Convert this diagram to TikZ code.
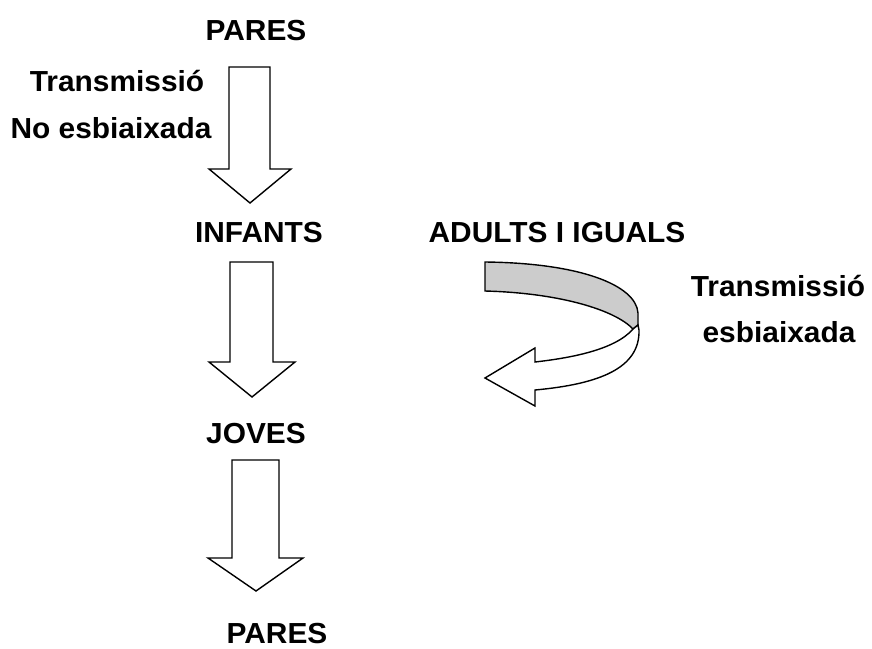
\documentclass[tikz,border=0pt]{standalone}
\usepackage{fontspec}
\setmainfont{Liberation Sans}
\usepackage{tikz}

\tikzset{
  lbl/.style={font=\bfseries\fontsize{29}{33}\selectfont,anchor=base,inner sep=0pt,xscale=1.03},
  blk/.style={draw,line width=1.4pt,fill=white,line join=miter}
}

\begin{document}
\begin{tikzpicture}[x=1pt,y=-1pt]
    \useasboundingbox (0,0) rectangle (872,648);
    % labels
    \node[lbl] (pares1) at (256,40){PARES};
    \node[lbl] (transm1) at (117,91){Transmissió};
    \node[lbl] (noesb) at (111,138){No esbiaixada};
    \node[lbl] (infants) at (259,242){INFANTS};
    \node[lbl] (adults) at (557,242){ADULTS I IGUALS};
    \node[lbl] (transm2) at (778,296){Transmissió};
    \node[lbl] (esb) at (779,342){esbiaixada};
    \node[lbl] (joves) at (256,443){JOVES};
    \node[lbl] (pares2) at (277,643){PARES};
    % block arrows
    \draw[blk](229,67)--(270,67)--(270,169)--(291,169)--(250,203)--(209,169)--(229,169)--cycle;
    \draw[blk](230,262)--(273,262)--(273,362)--(295,362)--(252,397)--(209,362)--(230,362)--cycle;
    \draw[blk](232,460)--(279,460)--(279,558)--(303,558)--(256,591)--(208,558)--(232,558)--cycle;
    % curved arrow
    \draw[blk,fill=black!20](485,262) .. controls (580,263) and (636,285) .. (638,313)
        --(638,325)--(633,329) .. controls (615,310) and (560,293) .. (485,291)--cycle;
    \draw[blk](633,329) .. controls (615,350) and (570,358) .. (535,362)
        --(535,348)--(485,378)--(535,406)--(535,390)
        .. controls (600,384) and (640,368) .. (639,330)--(638,325)--cycle;
\end{tikzpicture}
\end{document}
